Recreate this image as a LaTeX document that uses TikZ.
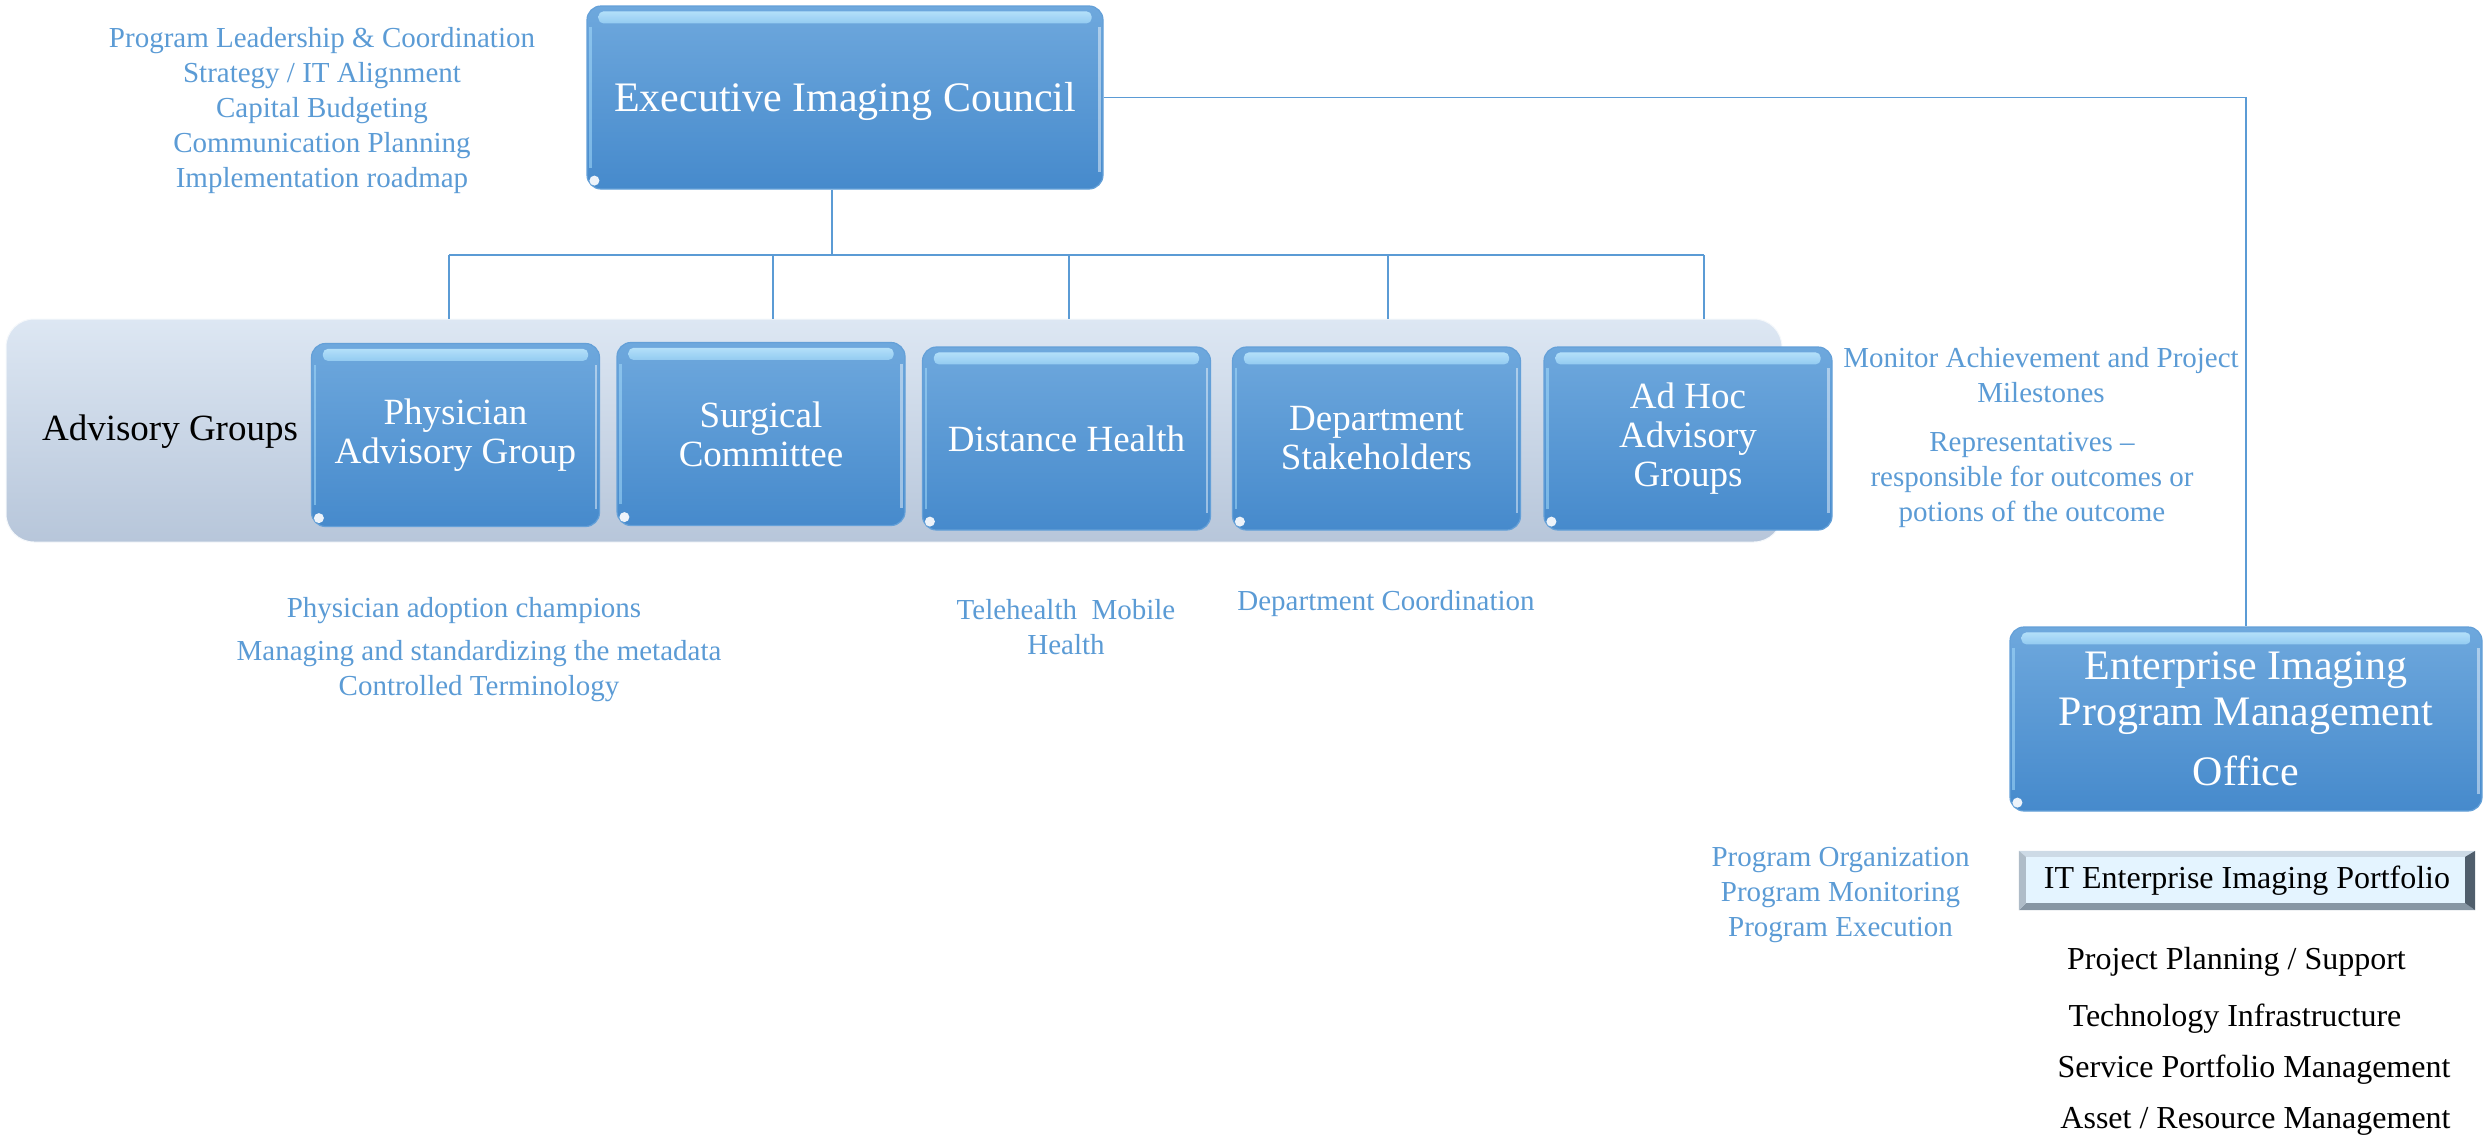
\documentclass[tikz,border=0pt]{standalone}
\usepackage{fontspec}
\setmainfont{Liberation Serif}
\usetikzlibrary{calc}
\definecolor{boxtop}{RGB}{110,168,221}
\definecolor{boxbot}{RGB}{70,138,204}
\definecolor{boxedge}{RGB}{100,160,216}
\definecolor{txtblue}{RGB}{91,155,213}
\definecolor{bandtop}{RGB}{221,231,243}
\definecolor{bandbot}{RGB}{183,198,218}
\definecolor{gloss}{RGB}{170,224,253}
\definecolor{itfill}{RGB}{228,244,255}
\definecolor{bevtop}{RGB}{205,218,230}
\definecolor{bevleft}{RGB}{175,188,200}
\definecolor{bevright}{RGB}{80,94,108}
\definecolor{bevbot}{RGB}{135,150,164}
\begin{document}
\begin{tikzpicture}[x=1pt,y=-1pt,
  bluebox/.style={rounded corners=14pt, top color=boxtop, bottom color=boxbot, draw=boxedge, line width=1.2pt, text=white, align=center, inner sep=0pt},
  smallbox/.style={bluebox, minimum width=288pt, minimum height=183pt, font=\fontsize{37}{39}\selectfont},
  conn/.style={draw=txtblue, line width=1.5pt},
  note/.style={text=txtblue, align=center, font=\fontsize{29}{35}\selectfont, inner sep=0pt},
  blk/.style={text=black, font=\fontsize{32}{38}\selectfont, inner sep=0pt}]
\useasboundingbox (0,0) rectangle (2484,1138);

% band
\node[rounded corners=28pt, top color=bandtop, bottom color=bandbot, draw=white!70!bandtop, line width=1pt,
      minimum width=1776pt, minimum height=223pt, inner sep=0pt] (band) at (894,430.5) {};
\node[font=\fontsize{37}{40}\selectfont, inner sep=0pt] (advlbl) at (170,432) {Advisory Groups};

% boxes
\node[bluebox, minimum width=516pt, minimum height=183pt, font=\fontsize{42}{48}\selectfont, text height=37pt, text depth=9pt] (exec) at (845,97.5) {Executive Imaging Council};
\node[smallbox] (pag) at (455.5,435) {Physician\\Advisory Group};
\node[smallbox] (sur) at (761,434) {Surgical\\Committee};
\node[smallbox] (dh) at (1066.5,438.5) {Distance Health};
\node[smallbox] (dep) at (1376.5,438.5) {Department\\Stakeholders};
\node[smallbox] (adh) at (1688,438.5) {Ad Hoc\\Advisory\\Groups};
\node[bluebox, minimum width=472pt, minimum height=184pt, font=\fontsize{42}{46}\selectfont] (eip) at (2246,719) {Enterprise Imaging\\Program Management\\[14pt]Office};

% gloss
\foreach \n in {exec,pag,sur,dh,dep,adh,eip}{
  \shade[top color=gloss!80!white, bottom color=gloss!70!boxtop, opacity=.9, rounded corners=5pt] ([xshift=12pt,yshift=-6pt]\n.north west) rectangle ([xshift=-12pt,yshift=-18pt]\n.north east);
  \draw[white, opacity=.45, line width=2.5pt] ([xshift=-4pt,yshift=-22pt]\n.north east) -- ([xshift=-4pt,yshift=18pt]\n.south east);
  \draw[gloss, opacity=.5, line width=2.5pt] ([xshift=4pt,yshift=-22pt]\n.north west) -- ([xshift=4pt,yshift=22pt]\n.south west);
  \fill[white, opacity=.9] ([xshift=8pt,yshift=9pt]\n.south west) circle (5pt);
}

% IT portfolio box
\node[fill=itfill, minimum width=456pt, minimum height=59pt, inner sep=0pt] (it) at (2247,880.5) {};
\fill[bevtop] (it.north west) -- (it.north east) -- ($(it.north east)+(-10,6)$) -- ($(it.north west)+(7,6)$) -- cycle;
\fill[bevbot] (it.south west) -- (it.south east) -- ($(it.south east)+(-10,-7)$) -- ($(it.south west)+(7,-7)$) -- cycle;
\fill[bevleft] (it.north west) -- ($(it.north west)+(7,6)$) -- ($(it.south west)+(7,-7)$) -- (it.south west) -- cycle;
\fill[bevright] (it.north east) -- (it.south east) -- ($(it.south east)+(-10,-7)$) -- ($(it.north east)+(-10,6)$) -- cycle;
\node[blk] (itlbl) at (it.center) {IT Enterprise Imaging Portfolio};

% connectors
\coordinate (bus) at (832,255);
\coordinate (d1) at (449,255);
\coordinate (d2) at (773,255);
\coordinate (d3) at (1069,255);
\coordinate (d4) at (1388,255);
\coordinate (d5) at (1704,255);
\draw[conn] (exec.south -| bus) -- (bus);
\draw[conn] (d1) -- (d5);
\foreach \d in {d1,d2,d3,d4,d5}{\draw[conn, line width=1.2pt] (\d) -- (\d |- band.north);}
\draw[conn] (exec.east) -- (exec.east -| eip.north) -- (eip.north);

% notes
\node[note] (execnotes) at (322,111) {Program Leadership \& Coordination\\Strategy / IT Alignment\\Capital Budgeting\\Communication Planning\\Implementation roadmap};
\node[note] (mon) at (2041,375) {Monitor Achievement and Project\\Milestones};
\node[note] (rep) at (2032,480) {Representatives –\\responsible for outcomes or\\potions of the outcome};
\node[note] (pac) at (464,610.5) {Physician adoption champions};
\node[note] (meta) at (479,671) {Managing and standardizing the metadata\\Controlled Terminology};
\node[note] (tele) at (1066,627.5) {Telehealth\ \ Mobile\\Health};
\node[note] (dcoord) at (1386,604) {Department Coordination};
\node[note] (prog) at (1840.5,895) {Program Organization\\Program Monitoring\\Program Execution};

% black list
\node[blk] (l1) at (2236.5,962) {Project Planning / Support};
\node[blk] (l2) at (2235,1019) {Technology Infrastructure};
\node[blk] (l3) at (2254,1070) {Service Portfolio Management};
\node[blk] (l4) at (2255.5,1121) {Asset / Resource Management};
\end{tikzpicture}
\end{document}
